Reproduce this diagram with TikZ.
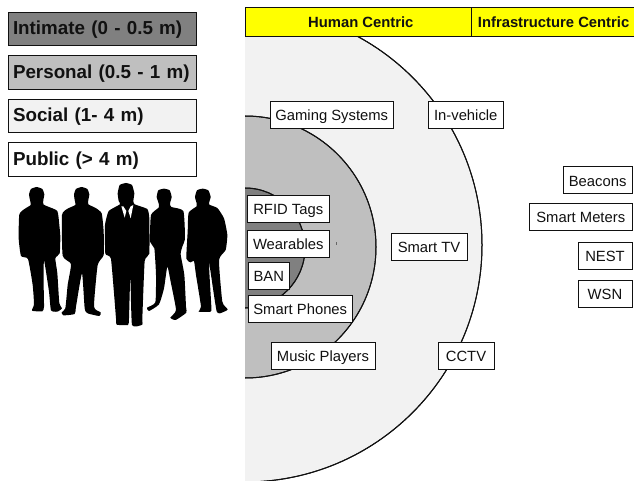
\documentclass[tikz,border=0pt]{standalone}
\usepackage{fontspec}
\setmainfont{Liberation Sans}
\definecolor{intimatecol}{HTML}{808080}
\definecolor{personalcol}{HTML}{BFBFBF}
\definecolor{socialcol}{HTML}{F2F2F2}
\definecolor{headcol}{HTML}{FFFF00}
\definecolor{inkcol}{HTML}{111111}
\tikzset{
  legendbox/.style={draw=inkcol,line width=1pt,rectangle,inner xsep=4.5pt,inner ysep=0pt,outer sep=0pt,
    text width=178.5pt,align=left,minimum height=33.5pt,text height=15pt,text depth=3.6pt,text=inkcol,font=\fontsize{18.8}{21}\selectfont\bfseries},
  headbox/.style={draw=inkcol,line width=1pt,fill=headcol,rectangle,inner sep=0pt,outer sep=0pt,
    minimum height=28.5pt,text height=14pt,text depth=3pt,text=inkcol,font=\fontsize{14.8}{16}\selectfont\bfseries},
  tagbox/.style={draw=inkcol,line width=1pt,fill=white,rectangle,inner sep=0pt,outer sep=0pt,
    minimum height=27pt,text height=14.4pt,text depth=3pt,text=inkcol,font=\fontsize{14.8}{16}\selectfont},
  zone/.style={draw=inkcol,line width=1pt},
  man/.style={fill=black,draw=none}
}
\begin{document}
\begin{tikzpicture}[x=1pt,y=-1pt]
\useasboundingbox (0,0) rectangle (634,481);
% zones
\begin{scope}
  \clip (245,0) rectangle (634,481);
  \fill[zone,fill=socialcol] (245,245) circle[radius=237];
  \fill[zone,fill=personalcol] (245,247) circle[radius=131];
  \fill[zone,fill=intimatecol] (245,248) circle[radius=60];
  \draw[zone] (245,245) circle[radius=237];
  \draw[zone] (245,247) circle[radius=131];
  \draw[zone] (245,248) circle[radius=60];
\end{scope}
\draw[line width=.7pt,draw=black!60] (336,242) -- (336,245);
% legend
\node[legendbox,fill=intimatecol] (intimate) at (102.25,29.2) {Intimate (0 - 0.5 m)};
\node[legendbox,fill=personalcol] (personal) at (102.25,72.5) {Personal (0.5 - 1 m)};
\node[legendbox,fill=socialcol] (social) at (102.25,116) {Social (1- 4 m)};
\node[legendbox,fill=white] (public) at (102.25,159.5) {Public (> 4 m)};
% header
\node[headbox,minimum width=226.7pt] (human) at (358.35,22) {\hspace*{5pt}Human Centric};
\node[headbox,minimum width=163.8pt] (infra) at (553.6,22) {Infrastructure Centric};
% tags
\node[tagbox,minimum width=123.5pt] (gaming) at (331.75,114.7) {Gaming Systems};
\node[tagbox,minimum width=74.5pt] (vehicle) at (465.75,114.7) {In-vehicle};
\node[tagbox,minimum width=82.5pt] (rfid) at (288.25,208.7) {RFID Tags};
\node[tagbox,minimum width=82.5pt] (wear) at (288.25,243.5) {Wearables};
\node[tagbox,minimum width=41.5pt] (ban) at (268.75,276) {BAN};
\node[tagbox,minimum width=104.5pt] (phones) at (300.25,308.5) {Smart Phones};
\node[tagbox,minimum width=104pt] (music) at (323,355.5) {Music Players};
\node[tagbox,minimum width=76pt] (tv) at (429,246.5) {Smart TV};
\node[tagbox,minimum width=56pt] (cctv) at (466,356.2) {CCTV};
\node[tagbox,minimum width=68.7pt] (beacons) at (597.65,180.5) {Beacons};
\node[tagbox,minimum width=102.5pt] (meters) at (580.75,217) {Smart Meters};
\node[tagbox,minimum width=54pt] (nest) at (605,255.7) {NEST};
\node[tagbox,minimum width=54pt] (wsn) at (605,294.2) {WSN};
% silhouettes
\begin{scope}[x=.33333pt,y=-.33333pt,yshift=-175pt]
  % man 1
  \fill[man] plot[smooth cycle,tension=.3] coordinates {(110,36)(127,42)(133,58)(130,75)(130,88)(142,94)(172,108)(178,150)(181,185)(179,235)(166,250)(172,295)(178,385)(186,400)(172,410)(153,406)(147,350)(132,255)(131,330)(132,395)(127,409)(96,407)(102,388)(98,330)(84,252)(63,243)(56,190)(58,118)(75,101)(92,90)(90,75)(87,58)(93,42)};
  % man 2
  \fill[man] plot[smooth cycle,tension=.3] coordinates {(245,36)(262,42)(268,58)(265,75)(265,88)(287,99)(305,115)(311,170)(311,240)(293,270)(282,395)(302,412)(298,423)(263,415)(254,400)(246,295)(228,395)(224,417)(190,421)(185,412)(196,400)(203,330)(213,267)(188,242)(186,120)(203,101)(226,90)(224,75)(222,58)(228,42)};
  % man 3
  \fill[man] plot[smooth cycle,tension=.25] coordinates {(378,24)(396,30)(403,55)(400,78)(404,88)(442,102)(448,130)(448,236)(434,258)(427,430)(427,449)(396,450)(391,300)(387,430)(384,450)(350,449)(348,430)(333,252)(316,236)(315,150)(326,108)(360,88)(356,78)(353,55)(359,30)};
  \fill[white] (364,94)--(374,128)--(379,108)--(370,94)--cycle;
  \fill[white] (400,90)--(392,130)--(385,108)--(392,94)--cycle;
  % man 4
  \fill[man] plot[smooth cycle,tension=.3] coordinates {(492,41)(509,46)(515,66)(510,85)(514,96)(550,108)(555,190)(547,215)(542,238)(553,300)(558,395)(559,413)(527,435)(511,428)(528,405)(512,320)(502,275)(492,340)(477,388)(447,408)(441,398)(466,382)(468,300)(463,220)(450,200)(453,120)(476,98)(476,85)(470,66)(475,46)};
  % man 5
  \fill[man] plot[smooth cycle,tension=.3] coordinates {(608,41)(625,46)(632,66)(627,88)(652,99)(672,130)(682,180)(677,225)(657,255)(667,380)(683,403)(670,411)(650,409)(627,262)(634,395)(632,410)(596,410)(603,395)(588,300)(582,258)(572,262)(559,251)(563,170)(566,113)(590,94)(590,85)(585,66)(591,46)};
\end{scope}
\end{tikzpicture}
\end{document}
